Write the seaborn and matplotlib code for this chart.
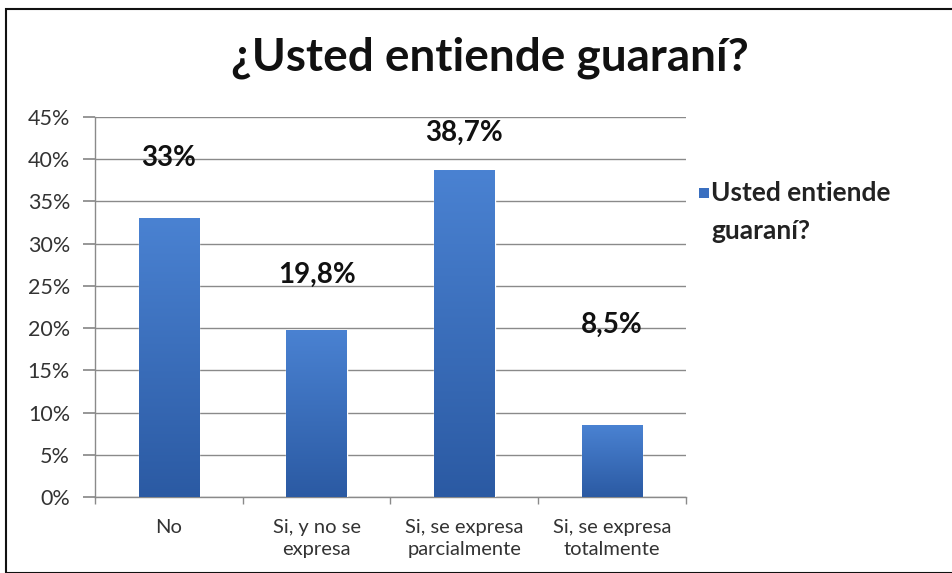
import numpy as np
import pandas as pd
import matplotlib
matplotlib.use("Agg")
import matplotlib.pyplot as plt
import seaborn as sns
from matplotlib.colors import LinearSegmentedColormap
from matplotlib.patches import Rectangle

categories = ["No", "Si, y no se\nexpresa", "Si, se expresa\nparcialmente", "Si, se expresa\ntotalmente"]
values = [33.0, 19.8, 38.7, 8.5]
value_labels = ["33%", "19,8%", "38,7%", "8,5%"]
series_name = "Usted entiende\nguaraní?"
title = "¿Usted entiende guaraní?"
yticks = [0, 5, 10, 15, 20, 25, 30, 35, 40, 45]
ytick_labels = ["0%", "5%", "10%", "15%", "20%", "25%", "30%", "35%", "40%", "45%"]

# layout: label y positions (in data units) as placed in the original
label_y = [40.2, 26.3, 43.1, 20.4]

sns.set_theme(style="white")
plt.rcParams['font.family'] = ['Lato', 'DejaVu Sans']

fig = plt.figure(figsize=(9.53, 5.73), dpi=100)
ax = fig.add_axes([95/953, 76/573, (686-95)/953, (497-117)/573])

df = pd.DataFrame({"cat": categories, "val": values})
sns.barplot(data=df, x="cat", y="val", ax=ax, color="#3566b5", width=0.41, zorder=3)

# gradient fill clipped to each bar
cmap = LinearSegmentedColormap.from_list("g", ["#2b5aa3", "#4a82d2"])
grad = np.linspace(0, 1, 256).reshape(-1, 1)
for p in list(ax.patches):
    x0, y0 = p.get_x(), p.get_y()
    w, h = p.get_width(), p.get_height()
    im = ax.imshow(grad, extent=[x0, x0 + w, y0, y0 + h], origin="lower",
                   cmap=cmap, aspect="auto", zorder=4)
    im.set_clip_path(p)

ax.set_xlim(-0.5, 3.5)
ax.set_ylim(0, 45)
ax.set_yticks(yticks)
ax.set_yticklabels(ytick_labels, fontsize=15.5, color="#333333")
ax.set_xticks(range(4))
ax.set_xticklabels(categories, fontsize=14.5, color="#333333", linespacing=1.35)
ax.set_xlabel("")
ax.set_ylabel("")

ax.grid(axis="y", color="#8a8a8a", linewidth=1.0, zorder=0)
ax.set_axisbelow(True)
for s in ["top", "right"]:
    ax.spines[s].set_visible(False)
for s in ["left", "bottom"]:
    ax.spines[s].set_color("#8a8a8a")
    ax.spines[s].set_linewidth(1.0)

ax.tick_params(axis="y", which="major", left=True, length=9, color="#8a8a8a", pad=9)
ax.tick_params(axis="x", which="major", bottom=False, pad=10)
ax.set_xticks([-0.5, 0.5, 1.5, 2.5, 3.5], minor=True)
ax.tick_params(axis="x", which="minor", bottom=True, length=5, color="#8a8a8a")

for i, (lab, ly) in enumerate(zip(value_labels, label_y)):
    ax.text(i, ly, lab, ha="center", va="center", fontsize=20, fontweight="bold", color="#111111")

fig.text(490/953, 1 - 58/573, title, ha="center", va="center", fontsize=33,
         fontweight="bold", color="#111111")

# legend
fig.patches.append(Rectangle((699/953, 1 - 198/573), 10/953, 10/573, transform=fig.transFigure,
                             facecolor="#3a6fc0", edgecolor="none"))
fig.text(711/953, 1 - 193/573, "Usted entiende", ha="left", va="center", fontsize=19,
         fontweight="bold", color="#222222")
fig.text(711/953, 1 - 231/573, "guaraní?", ha="left", va="center", fontsize=19,
         fontweight="bold", color="#222222")

# outer frame
fig.patches.append(Rectangle((6/953, 0), 1.2, (573 - 9)/573, transform=fig.transFigure,
                             facecolor="none", edgecolor="#111111", linewidth=1.5))

fig.savefig("out.png", dpi=100)
